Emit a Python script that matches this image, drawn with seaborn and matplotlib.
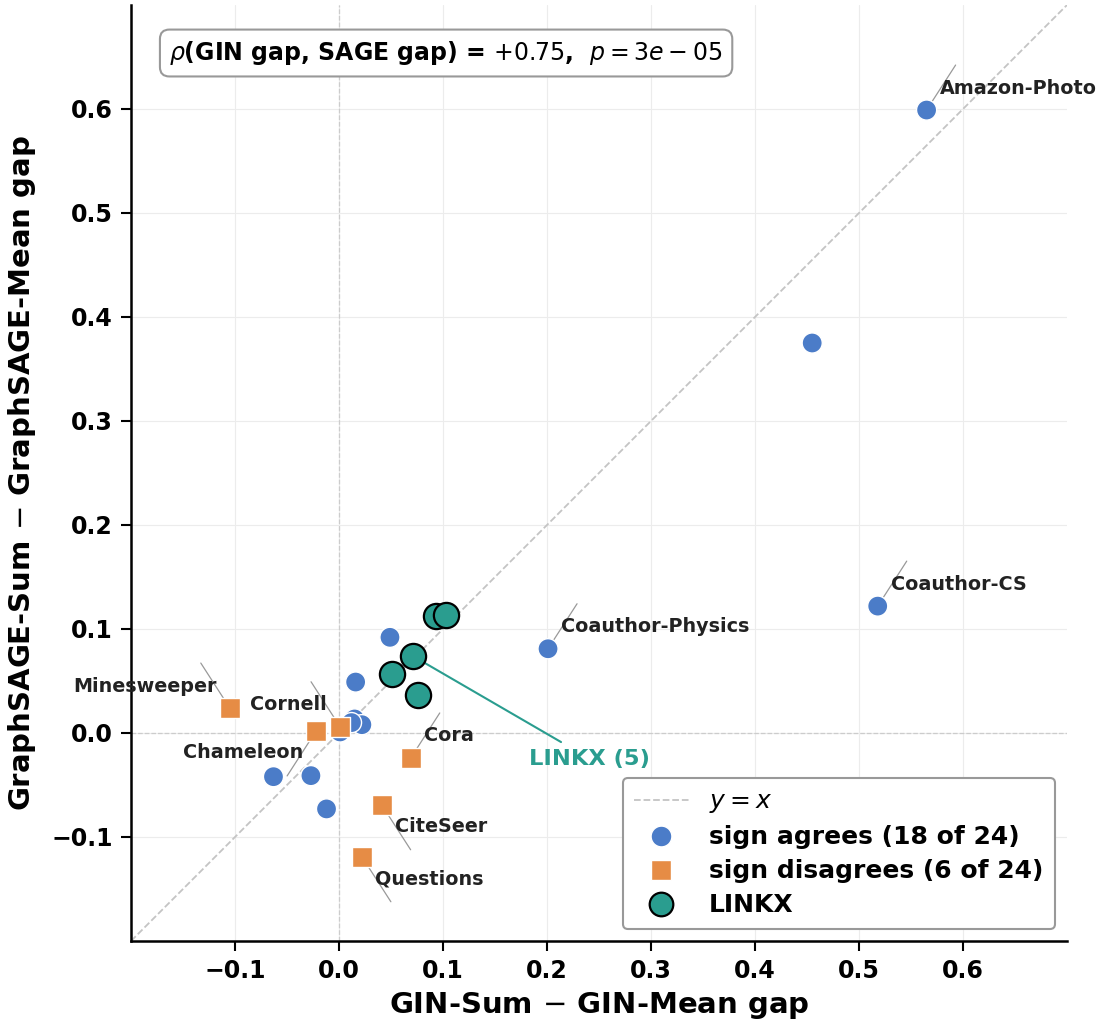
import matplotlib
matplotlib.use("Agg")
import matplotlib.pyplot as plt
import seaborn as sns
import pandas as pd
import numpy as np

# gap values
agree_x = [0.565, 0.455, 0.518, 0.201, 0.049, 0.016, 0.001, 0.015, 0.022, 0.012,
           -0.063, -0.027, -0.012]
agree_y = [0.599, 0.375, 0.122, 0.081, 0.092, 0.049, 0.001, 0.0135, 0.008, 0.010,
           -0.042, -0.041, -0.073]
agree_names = ["Amazon-Photo", "", "Coauthor-CS", "Coauthor-Physics", "", "", "", "", "", "",
               "", "", ""]

disagree_x = [-0.105, -0.022, 0.001, 0.069, 0.041, 0.022]
disagree_y = [0.024, 0.002, 0.006, -0.024, -0.069, -0.119]
disagree_names = ["Minesweeper", "Chameleon", "Cornell", "Cora", "CiteSeer", "Questions"]

linkx_x = [0.093, 0.103, 0.071, 0.051, 0.076]
linkx_y = [0.1125, 0.1135, 0.074, 0.057, 0.037]

# label placement direction (text offset quadrant)
label_dir = {"Amazon-Photo": "ne", "Coauthor-CS": "ne", "Coauthor-Physics": "ne",
             "Minesweeper": "nw", "Cornell": "nw", "Chameleon": "sw",
             "Cora": "ne", "CiteSeer": "se", "Questions": "se"}

rho_text = r"$\rho$(GIN gap, SAGE gap) = $+0.75$,  $p = 3e-05$"

BLUE = "#4B7CC8"
ORANGE = "#E68C45"
TEAL = "#2A9D8F"

sns.set_style("whitegrid", {"grid.color": "#ececec", "axes.edgecolor": "black",
                            "text.color": "black", "axes.labelcolor": "black",
                            "xtick.color": "black", "ytick.color": "black"})
plt.rcParams["font.family"] = ["DejaVu Sans"]

df = pd.DataFrame({
    "x": agree_x + disagree_x,
    "y": agree_y + disagree_y,
    "name": agree_names + disagree_names,
    "group": ["sign agrees (18 of 24)"] * len(agree_x) + ["sign disagrees (6 of 24)"] * len(disagree_x),
})
df_linkx = pd.DataFrame({"x": linkx_x, "y": linkx_y})

fig = plt.figure(figsize=(11.04, 10.24), dpi=100)
ax = fig.add_axes([131 / 1104, 1 - 941 / 1024, 936 / 1104, 936 / 1024])

lims = (-0.2, 0.7)
ax.set_xlim(lims)
ax.set_ylim(lims)

ax.axhline(0, color="#cccccc", ls="--", lw=0.9, zorder=1)
ax.axvline(0, color="#cccccc", ls="--", lw=0.9, zorder=1)
diag, = ax.plot(lims, lims, color="#c4c4c4", ls="--", lw=1.3, zorder=1, label="$y = x$")

sns.scatterplot(data=df, x="x", y="y", hue="group", style="group",
                palette=[BLUE, ORANGE], markers=["o", "s"], s=210,
                edgecolor="white", linewidth=1.0, ax=ax, zorder=3, legend=False)
sns.scatterplot(data=df_linkx, x="x", y="y", color=TEAL, s=330,
                edgecolor="black", linewidth=1.6, ax=ax, zorder=4, legend=False)

# dataset labels with thin leader lines
for _, r in df[df["name"] != ""].iterrows():
    d = label_dir[r["name"]]
    sx = 1 if "e" in d else -1
    sy = 1 if "n" in d else -1
    ax.annotate("", xy=(r["x"], r["y"]), xytext=(29 * sx, 45 * sy),
                textcoords="offset pixels",
                arrowprops=dict(arrowstyle="-", color="#999999", lw=0.9,
                                shrinkA=0, shrinkB=0), zorder=2)
    ax.annotate(r["name"], xy=(r["x"], r["y"]), xytext=(13 * sx, 22 * sy),
                textcoords="offset pixels", ha="left" if sx > 0 else "right",
                va="center", fontsize=13.8, fontweight="bold", color="#222222", zorder=5)

# LINKX callout
ax.annotate("", xy=(linkx_x[2], linkx_y[2]), xytext=(0.2135, -0.0087),
            arrowprops=dict(arrowstyle="-", color=TEAL, lw=1.5, shrinkA=0, shrinkB=0),
            zorder=2)
ax.text(0.241, -0.025, "LINKX (5)", color=TEAL, fontsize=16.2, fontweight="bold",
        ha="center", va="center")

ax.text(0.041, 0.9487, rho_text, transform=ax.transAxes, ha="left", va="center",
        fontsize=17, fontweight="bold",
        bbox=dict(boxstyle="round,pad=0.4", fc="white", ec="#999999", lw=1.5))

ticks = [-0.1, 0.0, 0.1, 0.2, 0.3, 0.4, 0.5, 0.6]
ax.set_xticks(ticks)
ax.set_yticks(ticks)
ax.set_xticklabels([f"{t:.1f}".replace("-", "\u2212") for t in ticks])
ax.set_yticklabels([f"{t:.1f}".replace("-", "\u2212") for t in ticks])
ax.tick_params(axis="both", labelsize=17, length=7, width=1.5, color="black",
               labelcolor="black", bottom=True, left=True, pad=6)
for lab in ax.get_xticklabels() + ax.get_yticklabels():
    lab.set_fontweight("bold")

ax.set_xlabel("GIN-Sum $-$ GIN-Mean gap", fontsize=21, fontweight="bold", labelpad=5)
ax.set_ylabel("GraphSAGE-Sum $-$ GraphSAGE-Mean gap", fontsize=21, fontweight="bold", labelpad=10)

sns.despine(ax=ax)
for side in ["left", "bottom"]:
    ax.spines[side].set_linewidth(1.8)
    ax.spines[side].set_color("black")

h_agree = plt.Line2D([], [], marker="o", ls="", color=BLUE, markeredgecolor="white",
                     markersize=15)
h_dis = plt.Line2D([], [], marker="s", ls="", color=ORANGE, markeredgecolor="white",
                   markersize=15)
h_linkx = plt.Line2D([], [], marker="o", ls="", color=TEAL, markeredgecolor="black",
                     markeredgewidth=1.6, markersize=17)
leg = ax.legend([diag, h_agree, h_dis, h_linkx],
                ["$y = x$", "sign agrees (18 of 24)", "sign disagrees (6 of 24)", "LINKX"],
                loc="lower right", prop={"size": 18, "weight": "bold"},
                frameon=True, fancybox=True, edgecolor="#999999", framealpha=1,
                borderpad=0.45, handlelength=2.2, labelspacing=0.4)
leg.get_frame().set_linewidth(1.5)

fig.savefig("out.png", dpi=100)
